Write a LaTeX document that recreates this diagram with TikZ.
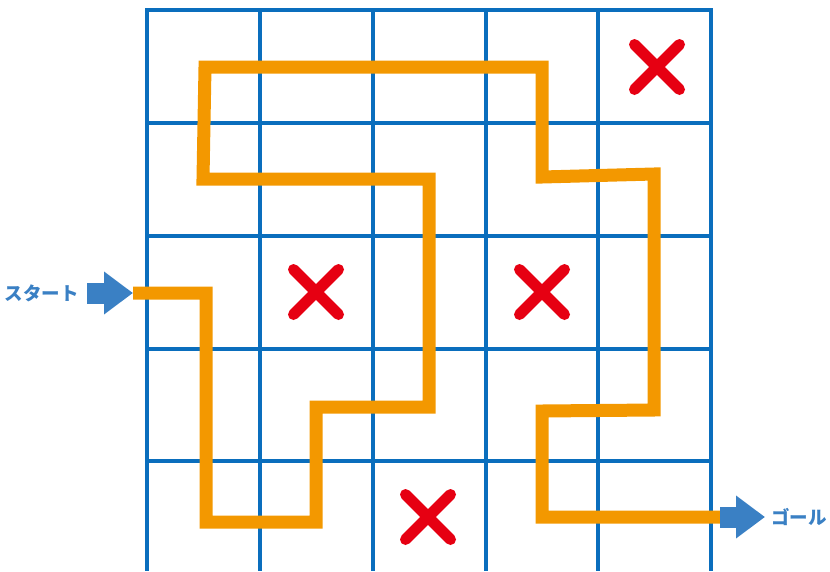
\documentclass[tikz,border=0pt]{standalone}
\usepackage{fontspec}
\newfontfamily\jpfont{Noto Sans CJK JP}
\usetikzlibrary{arrows.meta,positioning}
\definecolor{gridblue}{HTML}{0A6EBD}
\definecolor{arrowblue}{HTML}{3A80C4}
\definecolor{pathorange}{HTML}{F39800}
\definecolor{crossred}{HTML}{E60012}

\begin{document}
\begin{tikzpicture}[
  x=1pt, y=-1pt,
  gridline/.style={draw=gridblue, line width=3.5pt},
  route/.style={draw=pathorange, line width=13pt, line join=miter},
  cross/.style={draw=crossred, line width=11pt, line cap=round},
  bigarrow/.style={draw=arrowblue, line width=21pt, -{Triangle[length=29pt,width=41pt]}},
  lbl/.style={font=\jpfont\bfseries\fontsize{18.5pt}{22pt}\selectfont, text=arrowblue, inner sep=0pt}
]
\useasboundingbox (0,0) rectangle (830,571);

% 格子
\foreach \x in {147,260,373,486,598,711}
  \draw[gridline] (\x,10) -- (\x,571);
\foreach \y in {10,123,236,349,461}
  \draw[gridline, line cap=rect] (147,\y) -- (711,\y);

% 入口と出口
\coordinate (in) at (133,293);
\coordinate (out) at (720,517);

% 経路
\draw[route] (in) -- (206,293) -- (206,522) -- (316,522) -- (316,407)
  -- (429,407) -- (429,179) -- (203,179) -- (205,67) -- (542,67)
  -- (542,177) -- (654,174) -- (654,410) -- (542,411) -- (542,517) -- (out);

% 通れないマス
\foreach \cx/\cy in {657/67, 316/292, 542/292, 428/517}
  \draw[cross] (\cx,\cy) ++(-22.5,-22.5) -- ++(45,45) ++(0,-45) -- ++(-45,45);

% ラベルと矢印
\node[lbl, anchor=east] (start) at (79,293) {スタート};
\node[lbl, anchor=west] (goal) at (771,517) {ゴール};
\draw[bigarrow] ([xshift=8pt]start.east) -- (in);
\draw[bigarrow] (out) -- ([xshift=-6pt]goal.west);

\end{tikzpicture}
\end{document}
